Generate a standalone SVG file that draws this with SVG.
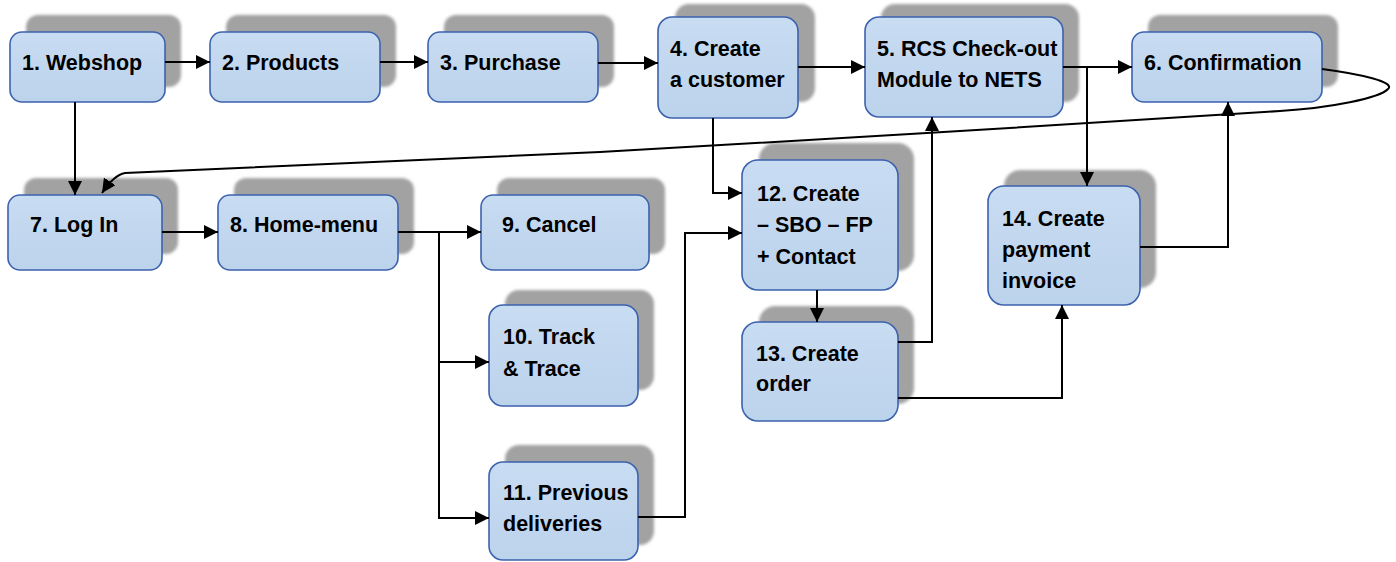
<svg xmlns="http://www.w3.org/2000/svg" width="1396" height="562" viewBox="0 0 1396 562">
<style>
.sh{fill:#a2a2a2;filter:url(#blur)}
.bx{fill:url(#g);stroke:#3d62ad;stroke-width:1.6}
.t{font-family:"Liberation Sans",Arial,sans-serif;font-weight:bold;font-size:21.5px;fill:#000}
.c{fill:none;stroke:#000;stroke-width:2}
.a{marker-end:url(#ah)}
</style>
<defs>
<linearGradient id="g" x1="0" y1="0" x2="0" y2="1"><stop offset="0" stop-color="#c8dcf2"/><stop offset="1" stop-color="#bcd3ec"/></linearGradient>
<filter id="blur" x="-10%" y="-10%" width="120%" height="120%"><feGaussianBlur stdDeviation="1.5"/></filter>
<marker id="ah" viewBox="0 0 10 10" refX="10" refY="5" markerWidth="7" markerHeight="7" markerUnits="strokeWidth" orient="auto"><path d="M0,0 L10,5 L0,10 z" fill="#000"/></marker>
</defs>
<rect width="1396" height="562" fill="#fff"/>
<g id="n1"><rect class="sh" x="26" y="15" width="155" height="72" rx="12"/><rect class="bx" x="10" y="32" width="155" height="70" rx="12"/><text class="t" x="22" y="70">1. Webshop</text></g>
<g id="n2"><rect class="sh" x="226" y="15" width="170" height="72" rx="12"/><rect class="bx" x="210" y="32" width="170" height="70" rx="12"/><text class="t" x="222" y="70">2. Products</text></g>
<g id="n3"><rect class="sh" x="444" y="15" width="170" height="72" rx="12"/><rect class="bx" x="428" y="32" width="170" height="70" rx="12"/><text class="t" x="440" y="70">3. Purchase</text></g>
<g id="n4"><rect class="sh" x="675" y="4" width="140" height="98" rx="14"/><rect class="bx" x="658" y="17" width="140" height="101" rx="14"/><text class="t" x="670" y="56">4. Create</text><text class="t" x="670" y="87">a customer</text></g>
<g id="n5"><rect class="sh" x="881" y="4" width="198" height="98" rx="14"/><rect class="bx" x="865" y="17" width="198" height="100" rx="14"/><text class="t" x="877" y="56">5. RCS Check-out</text><text class="t" x="877" y="87">Module to NETS</text></g>
<g id="n6"><rect class="sh" x="1148" y="15" width="190" height="72" rx="12"/><rect class="bx" x="1132" y="32" width="190" height="70" rx="12"/><text class="t" x="1144" y="70">6. Confirmation</text></g>
<g id="n7"><rect class="sh" x="24" y="178" width="154" height="76" rx="12"/><rect class="bx" x="8" y="195" width="154" height="75" rx="12"/><text class="t" x="30" y="232">7. Log In</text></g>
<g id="n8"><rect class="sh" x="234" y="178" width="180" height="76" rx="12"/><rect class="bx" x="218" y="195" width="180" height="75" rx="12"/><text class="t" x="230" y="232">8. Home-menu</text></g>
<g id="n9"><rect class="sh" x="497" y="178" width="168" height="76" rx="12"/><rect class="bx" x="481" y="195" width="168" height="75" rx="12"/><text class="t" x="502" y="232">9. Cancel</text></g>
<g id="n10"><rect class="sh" x="505" y="290" width="149" height="100" rx="14"/><rect class="bx" x="489" y="305" width="149" height="101" rx="14"/><text class="t" x="503" y="344">10. Track</text><text class="t" x="503" y="376">&amp; Trace</text></g>
<g id="n11"><rect class="sh" x="505" y="445" width="149" height="100" rx="14"/><rect class="bx" x="489" y="462" width="149" height="98" rx="14"/><text class="t" x="503" y="500">11. Previous</text><text class="t" x="503" y="531">deliveries</text></g>
<g id="n12"><rect class="sh" x="759" y="143" width="155" height="128" rx="16"/><rect class="bx" x="742" y="160" width="156" height="130" rx="16"/><text class="t" x="757" y="201">12. Create</text><text class="t" x="757" y="232">– SBO – FP</text><text class="t" x="757" y="264">+ Contact</text></g>
<g id="n13"><rect class="sh" x="759" y="306" width="155" height="98" rx="16"/><rect class="bx" x="742" y="322" width="156" height="99" rx="16"/><text class="t" x="756" y="361">13. Create</text><text class="t" x="756" y="391">order</text></g>
<g id="n14"><rect class="sh" x="1004" y="170" width="152" height="118" rx="16"/><rect class="bx" x="988" y="186" width="152" height="119" rx="16"/><text class="t" x="1002" y="226">14. Create</text><text class="t" x="1002" y="257">payment</text><text class="t" x="1002" y="288">invoice</text></g>
<g id="connectors">
<path class="c a" d="M165,62 H210"/>
<path class="c a" d="M380,62 H428"/>
<path class="c a" d="M598,63 H658"/>
<path class="c a" d="M798,67 H865"/>
<path class="c a" d="M1063,67 H1132"/>
<path class="c a" d="M1087,67 V186"/>
<path class="c a" d="M75,102 V195"/>
<path class="c a" d="M1322,69 C1360,74 1396,82 1388,89 C1380,98 1330,108 1280,111 C1100,123 800,141 600,152 C400,162 250,168 125,173 Q114,175 102,193"/>
<path class="c a" d="M713,118 V193 H742"/>
<path class="c a" d="M638,517 H685 V233 H742"/>
<path class="c a" d="M817,290 V322"/>
<path class="c a" d="M898,342 H932 V117"/>
<path class="c a" d="M898,398 H1062 V305"/>
<path class="c a" d="M1140,247 H1228 V102"/>
<path class="c a" d="M162,232 H218"/>
<path class="c a" d="M398,232 H481"/>
<path class="c a" d="M439,232 V362 H489"/>
<path class="c a" d="M439,362 V518 H489"/>
</g>
</svg>
